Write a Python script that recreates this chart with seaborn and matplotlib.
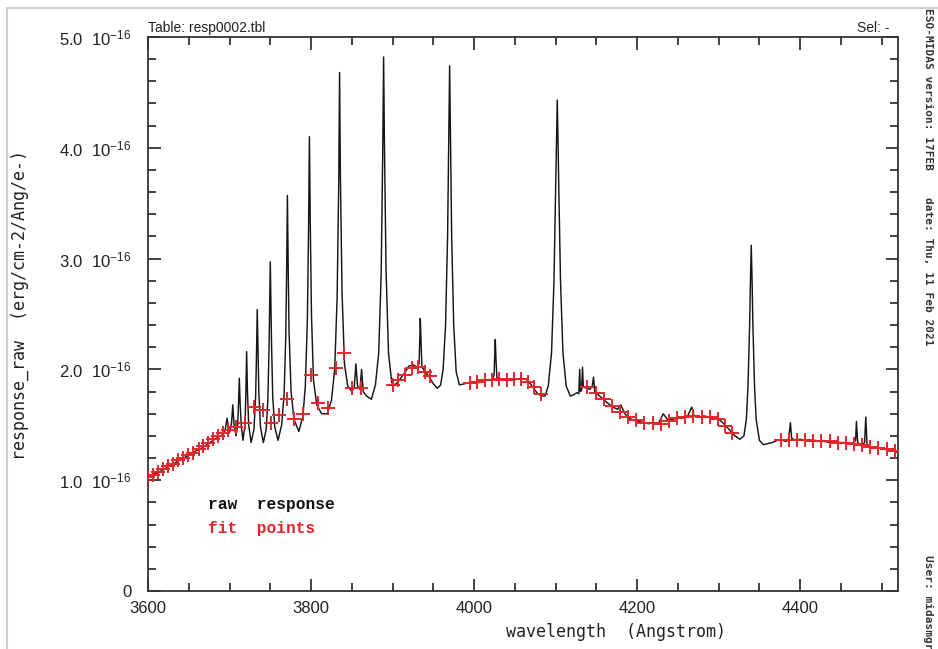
import matplotlib
matplotlib.use("Agg")
import matplotlib.pyplot as plt
import seaborn as sns
import pandas as pd
from matplotlib.lines import Line2D
from matplotlib.ticker import MultipleLocator, FixedLocator

# ---------------- data (response in units of 1e-16 erg/cm^2/Ang/e-) ----------------
raw_wave = [
    3600, 3606, 3612, 3618, 3624, 3630, 3636, 3642, 3648, 3654, 3660, 3666, 3672, 3678, 3684, 3689, 3693,
    3695, 3697, 3699, 3700.5, 3702.5, 3704, 3705.5, 3708, 3710, 3711, 3712, 3713, 3714.5, 3716.5,
    3719, 3720, 3721, 3722, 3723.5, 3726.5, 3730, 3732, 3733, 3734, 3735, 3736, 3738, 3741.5,
    3745, 3747, 3748.5, 3750, 3751.5, 3753, 3755.5, 3759.5, 3764, 3767, 3769, 3770, 3771, 3772, 3773,
    3775.5, 3779, 3785, 3790, 3793, 3795.5, 3797, 3798, 3799, 3800.5, 3803, 3807, 3813, 3820,
    3825, 3829, 3832, 3834, 3835, 3836, 3838, 3841, 3845, 3850, 3853, 3855, 3857, 3860, 3862, 3864,
    3868, 3874, 3879, 3883, 3886, 3888, 3889, 3890, 3892, 3895, 3899, 3903, 3908, 3914, 3920, 3926,
    3930, 3932.5, 3933.5, 3934, 3935, 3936, 3940, 3945, 3950, 3955, 3959, 3962, 3965, 3967.5, 3969,
    3970, 3971, 3972.5, 3975, 3978, 3982, 3988, 3994, 4000, 4006, 4012, 4018, 4022, 4024.5, 4025.5,
    4026, 4026.8, 4028, 4034, 4040, 4046, 4052, 4058, 4064, 4068, 4073, 4078, 4083, 4087, 4091, 4095,
    4098, 4100, 4101, 4102, 4103, 4104, 4106, 4109, 4113, 4118, 4122, 4126, 4128.5, 4129.5, 4130.5,
    4132, 4133, 4134, 4138, 4142, 4145, 4146.5, 4148, 4154, 4160, 4165, 4170, 4176, 4180, 4185, 4190,
    4196, 4202, 4208, 4214, 4220, 4226, 4232, 4238, 4244, 4250, 4256, 4262, 4267, 4270, 4276, 4282,
    4288, 4294, 4300, 4305, 4310, 4315, 4320, 4326, 4331, 4334, 4336, 4338, 4339, 4340, 4341, 4342,
    4344, 4346, 4350, 4355, 4360, 4366, 4372, 4378, 4383, 4386, 4388, 4389.5, 4394, 4400, 4406, 4412,
    4418, 4424, 4430, 4436, 4442, 4448, 4454, 4460, 4465, 4468, 4469, 4470.5, 4475, 4479, 4480.5, 4482,
    4486, 4492, 4498, 4504, 4510, 4516, 4520,
]
raw_resp = [
    1.03, 1.05, 1.07, 1.09, 1.12, 1.14, 1.17, 1.19, 1.22, 1.24, 1.27, 1.29, 1.32, 1.35, 1.38, 1.40, 1.42,
    1.47, 1.56, 1.46, 1.44, 1.52, 1.68, 1.50, 1.40, 1.50, 1.68, 1.92, 1.70, 1.48, 1.36,
    1.50, 1.76, 2.16, 1.80, 1.50, 1.34, 1.46, 1.75, 2.10, 2.54, 2.15, 1.78, 1.48, 1.34,
    1.46, 1.72, 2.20, 2.97, 2.25, 1.75, 1.48, 1.36, 1.50, 1.78, 2.30, 2.85, 3.57, 2.90, 2.35,
    1.80, 1.55, 1.44, 1.58, 1.85, 2.45, 3.30, 4.10, 3.35, 2.50, 1.90, 1.68, 1.60, 1.60,
    1.72, 2.00, 2.65, 3.70, 4.68, 3.75, 2.70, 2.05, 1.85, 1.80, 1.84, 2.05, 1.85, 1.82, 2.00, 1.80,
    1.76, 1.73, 1.86, 2.15, 2.85, 4.00, 4.82, 4.05, 2.90, 2.15, 1.88, 1.86, 1.90, 1.96, 2.03, 2.04,
    2.02, 2.05, 2.30, 2.46, 2.25, 2.02, 1.98, 1.93, 1.87, 1.83, 1.86, 2.00, 2.40, 3.20, 4.10,
    4.74, 4.10, 3.20, 2.40, 1.98, 1.86, 1.87, 1.88, 1.89, 1.88, 1.90, 1.91, 1.90, 1.95, 2.15,
    2.27, 2.10, 1.92, 1.91, 1.91, 1.90, 1.91, 1.92, 1.91, 1.88, 1.83, 1.78, 1.76, 1.76, 1.85, 2.15,
    2.80, 3.60, 4.05, 4.43, 4.05, 3.60, 2.80, 2.15, 1.85, 1.76, 1.77, 1.79, 1.78, 2.00, 1.80,
    1.82, 2.02, 1.84, 1.83, 1.82, 1.85, 1.93, 1.80, 1.76, 1.72, 1.69, 1.66, 1.64, 1.68, 1.60, 1.56,
    1.54, 1.53, 1.52, 1.51, 1.52, 1.51, 1.60, 1.54, 1.55, 1.56, 1.57, 1.58, 1.66, 1.58, 1.57, 1.58,
    1.57, 1.56, 1.55, 1.52, 1.48, 1.44, 1.40, 1.37, 1.40, 1.55, 1.85, 2.40, 2.80, 3.12, 2.80, 2.40,
    1.85, 1.55, 1.36, 1.32, 1.33, 1.34, 1.36, 1.36, 1.35, 1.38, 1.52, 1.38, 1.36, 1.37, 1.36, 1.35,
    1.36, 1.35, 1.35, 1.34, 1.35, 1.34, 1.34, 1.33, 1.33, 1.36, 1.53, 1.34, 1.31, 1.34, 1.57, 1.32,
    1.30, 1.30, 1.29, 1.28, 1.27, 1.26, 1.25,
]

fit_wave = [
    3600, 3606, 3612, 3618, 3625, 3631, 3637, 3643, 3649, 3655, 3662, 3668, 3674, 3680, 3686, 3692, 3698, 3708, 3719,
    3730, 3741, 3751, 3761, 3771, 3779, 3790, 3800, 3809, 3821, 3831, 3840, 3850, 3861,
    3901, 3907, 3915, 3924, 3931, 3940, 3946,
    3995, 4004, 4013, 4022, 4031, 4040, 4049, 4058, 4066, 4074, 4082,
    4139, 4149, 4159, 4169, 4179, 4189, 4199, 4209, 4219, 4229, 4239, 4249, 4259, 4269, 4279, 4289, 4299, 4308, 4316,
    4376, 4386, 4396, 4406, 4416, 4426, 4436, 4446, 4456, 4466, 4476, 4486, 4496, 4506, 4516,
]
fit_resp = [
    1.03, 1.05, 1.07, 1.10, 1.13, 1.15, 1.18, 1.20, 1.23, 1.25, 1.28, 1.31, 1.34, 1.37, 1.40, 1.43, 1.45, 1.48, 1.52,
    1.66, 1.63, 1.52, 1.59, 1.73, 1.55, 1.60, 1.95, 1.70, 1.65, 2.01, 2.15, 1.83, 1.83,
    1.86, 1.90, 1.95, 2.01, 2.02, 1.98, 1.94,
    1.88, 1.89, 1.90, 1.90, 1.91, 1.90, 1.91, 1.91, 1.89, 1.84, 1.78,
    1.84, 1.79, 1.73, 1.67, 1.62, 1.57, 1.54, 1.52, 1.52, 1.51, 1.53, 1.56, 1.57, 1.58, 1.57, 1.57, 1.55, 1.49, 1.43,
    1.36, 1.36, 1.36, 1.36, 1.35, 1.35, 1.35, 1.34, 1.34, 1.33, 1.32, 1.30, 1.29, 1.28, 1.26,
]

y_tick_vals = [0, 1, 2, 3, 4, 5]
y_tick_labels = ["0", r"1.0  10$^{-16}$", r"2.0  10$^{-16}$", r"3.0  10$^{-16}$",
                 r"4.0  10$^{-16}$", r"5.0  10$^{-16}$"]
x_tick_vals = [3600, 3800, 4000, 4200, 4400]

# ---------------- style ----------------
sns.set_style("ticks")
plt.rcParams["font.family"] = ["Liberation Sans", "DejaVu Sans"]
plt.rcParams["mathtext.fontset"] = "custom"
plt.rcParams["mathtext.rm"] = "Liberation Sans"
plt.rcParams["mathtext.it"] = "Liberation Sans"
plt.rcParams["mathtext.bf"] = "Liberation Sans:bold"

raw_df = pd.DataFrame({"wave": raw_wave, "resp": raw_resp})
fit_df = pd.DataFrame({"wave": fit_wave, "resp": fit_resp})

fig = plt.figure(figsize=(9.38, 6.49), dpi=100)
ax = fig.add_axes([148 / 938, 1 - 591 / 649, 750 / 938, 554 / 649])

sns.lineplot(data=raw_df, x="wave", y="resp", ax=ax, color="#161616", lw=1.05,
             sort=False, estimator=None)
sns.scatterplot(data=fit_df, x="wave", y="resp", ax=ax, color="#e3262b", marker="+",
                s=115, linewidth=1.4, zorder=3, clip_on=True)

ax.set_xlim(3600, 4520)
ax.set_ylim(0, 5)
ax.set_xlabel("")
ax.set_ylabel("")

ax.xaxis.set_major_locator(FixedLocator(x_tick_vals))
ax.xaxis.set_minor_locator(MultipleLocator(50))
ax.yaxis.set_major_locator(FixedLocator(y_tick_vals))
ax.yaxis.set_minor_locator(MultipleLocator(0.2))
ax.set_xticklabels([str(v) for v in x_tick_vals])
ax.set_yticklabels(y_tick_labels)

ax.tick_params(which="both", direction="in", top=True, right=True, color="#333333", width=1.3)
ax.tick_params(which="major", length=9, labelsize=12, labelcolor="#222222")
ax.tick_params(axis="x", which="major", pad=7)
ax.tick_params(axis="y", which="major", pad=12)
ax.tick_params(which="minor", length=5.5)
for sp in ax.spines.values():
    sp.set_visible(True)
    sp.set_linewidth(1.3)
    sp.set_color("#333333")

# header texts
ax.text(0.0, 1.004, "Table: resp0002.tbl", transform=ax.transAxes, ha="left", va="bottom",
        fontsize=10, color="#222222")
ax.text(0.989, 1.004, "Sel: -", transform=ax.transAxes, ha="right", va="bottom",
        fontsize=10, color="#222222")

# axis labels
mono = ["DejaVu Sans Mono"]
fig.text(20 / 938, 1 - 305 / 649, "response_raw  (erg/cm-2/Ang/e-)", rotation=90,
         ha="center", va="center", fontsize=12, family=mono, color="#222222")
fig.text(616 / 938, 1 - 632 / 649, "wavelength  (Angstrom)", ha="center", va="center",
         fontsize=12, family=mono, color="#222222")

# legend-like labels
fig.text(208 / 938, 1 - 505 / 649, "raw  response", ha="left", va="center",
         fontsize=11.7, family=["Liberation Mono"], weight="bold", color="#111111")
fig.text(208 / 938, 1 - 529 / 649, "fit  points", ha="left", va="center",
         fontsize=11.7, family=["Liberation Mono"], weight="bold", color="#e3262b")

# side annotation (MIDAS plot stamp)
fig.text(928 / 938, 1 - 8 / 649, "ESO-MIDAS version: 17FEB    date: Thu, 11 Feb 2021",
         rotation=-90, ha="center", va="top", fontsize=8, family=["DejaVu Sans Mono"],
         weight="bold", color="#333333")
fig.text(928 / 938, 1 - 555 / 649, "User: midasmgr", rotation=-90, ha="center", va="top",
         fontsize=8, family=["DejaVu Sans Mono"], weight="bold", color="#333333")

# light frame
fig.add_artist(Line2D([7 / 938, 7 / 938], [0, 1 - 8 / 649], color="#cfcfcf", lw=1.5))
fig.add_artist(Line2D([7 / 938, 1], [1 - 8 / 649, 1 - 8 / 649], color="#cfcfcf", lw=1.5))

fig.savefig("out.png", dpi=100)
